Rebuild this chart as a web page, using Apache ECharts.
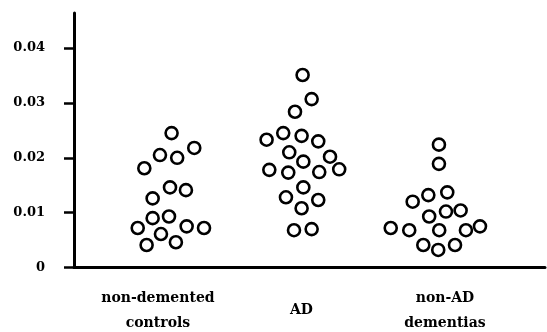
<!DOCTYPE html>
<html>
<head>
<meta charset="utf-8">
<script src="https://cdn.jsdelivr.net/npm/echarts@6/dist/echarts.min.js"></script>
<style>
  html, body { margin: 0; padding: 0; background: #fff; }
  #chart { width: 547px; height: 332px; }
</style>
</head>
<body>
<div id="chart"></div>
<script>
// Group names (category positions 1, 2, 3 on the x scale)
var categories = ['non-demented\ncontrols', 'AD', 'non-AD\ndementias'];
var categoryPositions = [1, 2, 3];

// Y tick values
var yTicks = [0, 0.01, 0.02, 0.03, 0.04];

// Non-demented controls: horizontal position (spread within the group) and value
var controlsX = [1.095, 1.014, 1.134, 1.253, 0.905, 1.084, 1.195, 0.963,
                 0.963, 1.077, 0.859, 1.200, 1.321, 1.021, 0.921, 1.125];
var controlsY = [0.0245, 0.0205, 0.0200, 0.0218, 0.0181, 0.0146, 0.0141, 0.0126,
                 0.0090, 0.0093, 0.0072, 0.0075, 0.0072, 0.0061, 0.0041, 0.0046];

// AD
var adX = [2.008, 2.071, 1.955, 1.757, 1.873, 2.001, 2.117, 1.915, 2.199, 2.013,
           1.776, 1.908, 2.124, 2.263, 2.013, 1.892, 2.117, 2.001, 1.948, 2.071];
var adY = [0.0351, 0.0307, 0.0284, 0.0233, 0.0245, 0.0240, 0.0230, 0.0210, 0.0202, 0.0193,
           0.0178, 0.0173, 0.0174, 0.0179, 0.0146, 0.0128, 0.0123, 0.0108, 0.0068, 0.0070];

// Non-AD dementias
var nonAdX = [2.958, 2.958, 2.884, 3.016, 2.775, 2.890, 3.007, 3.109,
              2.622, 2.751, 2.960, 3.146, 3.244, 2.849, 2.953, 3.070];
var nonAdY = [0.0224, 0.0189, 0.0132, 0.0137, 0.0120, 0.0093, 0.0102, 0.0104,
              0.0072, 0.0068, 0.0068, 0.0068, 0.0075, 0.0041, 0.0032, 0.0041];

function pairs(xs, ys) {
  return xs.map(function (x, i) { return [x, ys[i]]; });
}

var fontFamily = '"DejaVu Serif", "Liberation Serif", serif';

var ringStyle = {
  color: 'rgba(0,0,0,0)',
  borderColor: '#000',
  borderWidth: 2.6,
  opacity: 1
};

function ringSeries(name, xs, ys) {
  return {
    name: name,
    type: 'scatter',
    symbol: 'circle',
    symbolSize: 12,
    itemStyle: ringStyle,
    emphasis: { disabled: true },
    silent: true,
    data: pairs(xs, ys)
  };
}

var chart = echarts.init(document.getElementById('chart'), null, { renderer: 'canvas' });
chart.setOption({
  animation: false,
  backgroundColor: '#fff',
  grid: {
    left: 74, right: 2, top: 13, bottom: 64.5,
    containLabel: false,
    outerBoundsMode: 'none'
  },
  xAxis: {
    type: 'value',
    min: 0.415,
    max: 3.697,
    splitLine: { show: false },
    axisLine: { show: true, onZero: false, lineStyle: { color: '#000', width: 3 } },
    axisTick: { show: false },
    axisLabel: {
      customValues: categoryPositions,
      formatter: function (v) {
        var i = categoryPositions.indexOf(Math.round(v));
        return i >= 0 ? categories[i] : '';
      },
      margin: 43,
      verticalAlign: 'middle',
      align: 'center',
      lineHeight: 25,
      color: '#000',
      fontFamily: fontFamily,
      fontWeight: 'bold',
      fontSize: 14
    }
  },
  yAxis: {
    type: 'value',
    min: 0,
    max: 0.0464,
    splitLine: { show: false },
    axisLine: { show: true, lineStyle: { color: '#000', width: 3 } },
    axisTick: {
      show: true,
      customValues: yTicks,
      length: 10,
      lineStyle: { color: '#000', width: 2.5 }
    },
    axisLabel: {
      customValues: yTicks,
      formatter: function (v) { return v === 0 ? '0' : v.toFixed(2); },
      margin: 29,
      color: '#000',
      fontFamily: fontFamily,
      fontWeight: 'bold',
      fontSize: 13
    }
  },
  series: [
    ringSeries('non-demented controls', controlsX, controlsY),
    ringSeries('AD', adX, adY),
    ringSeries('non-AD dementias', nonAdX, nonAdY)
  ]
});
</script>
</body>
</html>
